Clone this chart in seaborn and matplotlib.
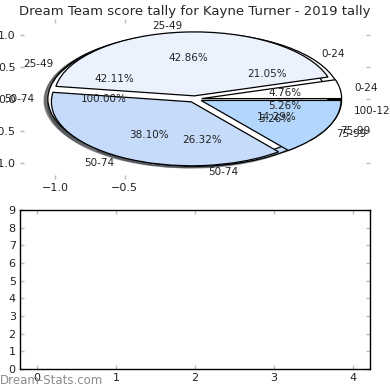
import matplotlib
matplotlib.use("Agg")
import matplotlib.pyplot as plt
import seaborn as sns

sns.set_theme(style="white")
plt.rcParams['font.family'] = ['DejaVu Sans']

title = "Dream Team score tally for Kayne Turner - 2019 tally"

# pie drawn first (mostly hidden)
labels_b = ["0-24", "25-49", "50-74", "75-99", "100-124"]
values_b = [4, 8, 5, 1, 1]
# single-slice pie
labels_a = ["50-74"]
values_a = [1]
# pie drawn last (on top)
labels_c = ["0-24", "25-49", "50-74", "75-99"]
values_c = [1, 9, 8, 3]

palette = ["#ffffff", "#ebf2fe", "#c6dafa", "#b3d6fc", "#9fc5f8"]

top_yticks = [-1.0, -0.5, 0.0, 0.5, 1.0]
top_xticks = [-1.0, -0.5]
bottom_yticks = list(range(0, 10))
bottom_xticks = list(range(0, 5))

fig = plt.figure(figsize=(3.9, 3.9), dpi=100)
ax1 = fig.add_axes([0.051, 0.541, 0.897, 0.41])
ax2 = fig.add_axes([0.051, 0.054, 0.897, 0.408])

explode_amt = 0.05
text_size = 7.5
wp = dict(edgecolor="black", linewidth=0.9)
for vals, labs in [(values_b, labels_b), (values_a, labels_a), (values_c, labels_c)]:
    ax1.pie(vals, labels=labs, colors=palette[:len(vals)], autopct="%1.2f%%",
            explode=[explode_amt] * len(vals), shadow=True, startangle=0,
            frame=True, wedgeprops=wp, textprops=dict(fontsize=text_size, color="#222222"))

ax1.set_aspect("auto")
ax1.set_xlim(-1.25, 1.25)
ax1.set_ylim(-1.25, 1.25)
ax1.set_xticks(top_xticks)
ax1.set_yticks(top_yticks)
ax1.set_xticklabels([f"{t:.1f}".replace("-", "\u2212") for t in top_xticks])
ax1.set_yticklabels([f"{t:.1f}".replace("-", "\u2212") for t in top_yticks])
for s in ax1.spines.values():
    s.set_visible(False)
ax1.set_facecolor("white")
ax1.set_title(title, fontsize=9.5, pad=3)

ax2.set_xlim(-0.215, 4.215)
ax2.set_ylim(0, 9)
ax2.set_xticks(bottom_xticks)
ax2.set_yticks(bottom_yticks)
for s in ax2.spines.values():
    s.set_visible(True)
    s.set_color("black")
    s.set_linewidth(1.0)

for ax in (ax1, ax2):
    ax.tick_params(axis="both", which="both", direction="in", length=3, width=1,
                   color="#bbbbbb", labelsize=8, labelcolor="#222222",
                   top=True, right=True, bottom=True, left=True, pad=3)

fig.text(0.0, 0.008, "Dream-Stats.com", fontsize=8.5, color="#8c8c8c", ha="left", va="bottom")

fig.savefig("out.png", dpi=100)
